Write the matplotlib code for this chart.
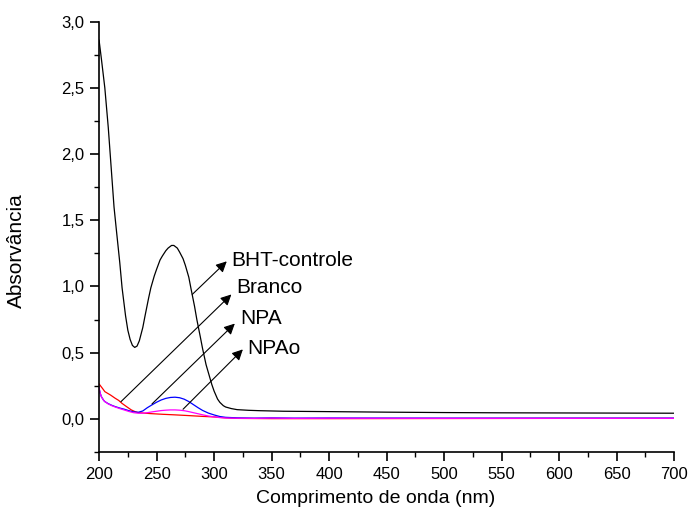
import numpy as np
import matplotlib.pyplot as plt
from matplotlib.ticker import MultipleLocator, FuncFormatter

plt.rcParams['font.family'] = ['Liberation Sans', 'DejaVu Sans']

# comprimento de onda (nm) e absorbancias
wl_bht = [200, 202, 205, 208, 210, 213, 215, 218, 220, 223, 225, 227, 229, 231, 233, 235,
          238, 240, 243, 245, 248, 250, 253, 255, 258, 260, 263, 265, 268, 270, 273,
          275, 278, 280, 283, 285, 288, 290, 293, 295, 298, 300, 303, 305, 308, 310,
          315, 320, 330, 340, 360, 400, 450, 500, 550, 600, 650, 700]
abs_bht = [2.86, 2.72, 2.50, 2.20, 1.96, 1.60, 1.43, 1.18, 0.99, 0.78, 0.67, 0.60, 0.555, 0.54, 0.55, 0.59,
           0.69, 0.78, 0.91, 0.99, 1.08, 1.13, 1.20, 1.23, 1.27, 1.29, 1.31, 1.31, 1.29, 1.26, 1.21,
           1.16, 1.07, 0.98, 0.85, 0.75, 0.62, 0.53, 0.41, 0.35, 0.26, 0.21, 0.15, 0.125, 0.10, 0.09,
           0.078, 0.07, 0.065, 0.062, 0.058, 0.055, 0.051, 0.048, 0.046, 0.045, 0.044, 0.043]

wl_branco = [200, 203, 205, 210, 214, 217, 220, 224, 228, 231, 234, 240, 245, 255, 265,
             278, 290, 300, 310, 320, 350, 400, 500, 600, 700]
abs_branco = [0.264, 0.23, 0.206, 0.18, 0.156, 0.14, 0.117, 0.092, 0.068, 0.056, 0.048, 0.043, 0.040, 0.035, 0.031,
              0.025, 0.019, 0.015, 0.008, 0.004, 0.002, 0.002, 0.003, 0.004, 0.004]

wl_npa = [200, 201, 202, 204, 205, 208, 211, 214, 218, 222, 226, 230, 234, 238, 242,
          246, 250, 254, 258, 262, 266, 270, 274, 278, 282, 286, 290, 295, 300, 305,
          310, 320, 335, 350, 370, 400, 500, 600, 700]
abs_npa = [0.232, 0.194, 0.168, 0.14, 0.131, 0.115, 0.103, 0.093, 0.082, 0.073, 0.062, 0.053, 0.050, 0.060, 0.085,
           0.106, 0.126, 0.143, 0.155, 0.162, 0.164, 0.160, 0.149, 0.131, 0.108, 0.085, 0.064, 0.044, 0.030, 0.018,
           0.012, 0.008, 0.006, 0.008, 0.006, 0.007, 0.006, 0.006, 0.006]

wl_npao = [200, 201, 202, 204, 205, 208, 211, 214, 218, 222, 226, 230, 234, 238, 242,
           246, 250, 254, 258, 262, 266, 270, 274, 278, 282, 286, 290, 295, 300, 305,
           310, 320, 335, 350, 370, 400, 500, 600, 700]
abs_npao = [0.232, 0.194, 0.168, 0.14, 0.131, 0.113, 0.100, 0.090, 0.078, 0.067, 0.056, 0.047, 0.043, 0.043, 0.047,
            0.053, 0.058, 0.063, 0.066, 0.068, 0.068, 0.066, 0.062, 0.055, 0.047, 0.039, 0.031, 0.022, 0.015, 0.010,
            0.007, 0.005, 0.004, 0.006, 0.004, 0.005, 0.004, 0.004, 0.004]

labels = ['BHT-controle', 'Branco', 'NPA', 'NPAo']
arrow_tails = [(281, 0.94), (219, 0.13), (246, 0.113), (273, 0.073)]
arrow_heads = [(311, 1.19), (315, 0.94), (318, 0.72), (325, 0.525)]
text_pos = [(314.5, 1.20), (319.5, 0.99), (322.5, 0.755), (328.5, 0.535)]

fig = plt.figure(figsize=(6.88, 5.16), dpi=100)
ax = fig.add_axes([0.144, 0.124, 0.836, 0.834])

ax.plot(wl_bht, abs_bht, color='black', lw=0.9)
ax.plot(wl_branco, abs_branco, color='red', lw=0.9)
ax.plot(wl_npa, abs_npa, color='blue', lw=0.9)
ax.plot(wl_npao, abs_npao, color='magenta', lw=0.9)

for lab, tail, head, tpos in zip(labels, arrow_tails, arrow_heads, text_pos):
    ax.annotate('', xy=head, xytext=tail,
                arrowprops=dict(arrowstyle='-|>', mutation_scale=16, lw=0.8,
                                color='black', shrinkA=0, shrinkB=0))
    ax.text(tpos[0], tpos[1], lab, fontsize=15, ha='left', va='center')

ax.set_xlim(200, 700)
ax.set_ylim(-0.25, 3.0)
ax.xaxis.set_major_locator(MultipleLocator(50))
ax.xaxis.set_minor_locator(MultipleLocator(25))
ax.yaxis.set_major_locator(MultipleLocator(0.5))
ax.yaxis.set_minor_locator(MultipleLocator(0.25))
ax.yaxis.set_major_formatter(FuncFormatter(lambda v, p: f'{v:.1f}'.replace('.', ',') if v >= -1e-9 else ''))

for s in ['top', 'right']:
    ax.spines[s].set_visible(False)
for s in ['left', 'bottom']:
    ax.spines[s].set_linewidth(1.2)

ax.tick_params(which='major', length=6.5, width=1.2, labelsize=12, pad=4)
ax.tick_params(which='minor', length=3.6, width=1.0)

ax.set_xlabel('Comprimento de onda (nm)', fontsize=14)
ax.set_ylabel('Absorvância', fontsize=15)
ax.xaxis.set_label_coords(0.48, -0.088)
ax.yaxis.set_label_coords(-0.127, 0.469)

plt.savefig('out.png', dpi=100)
